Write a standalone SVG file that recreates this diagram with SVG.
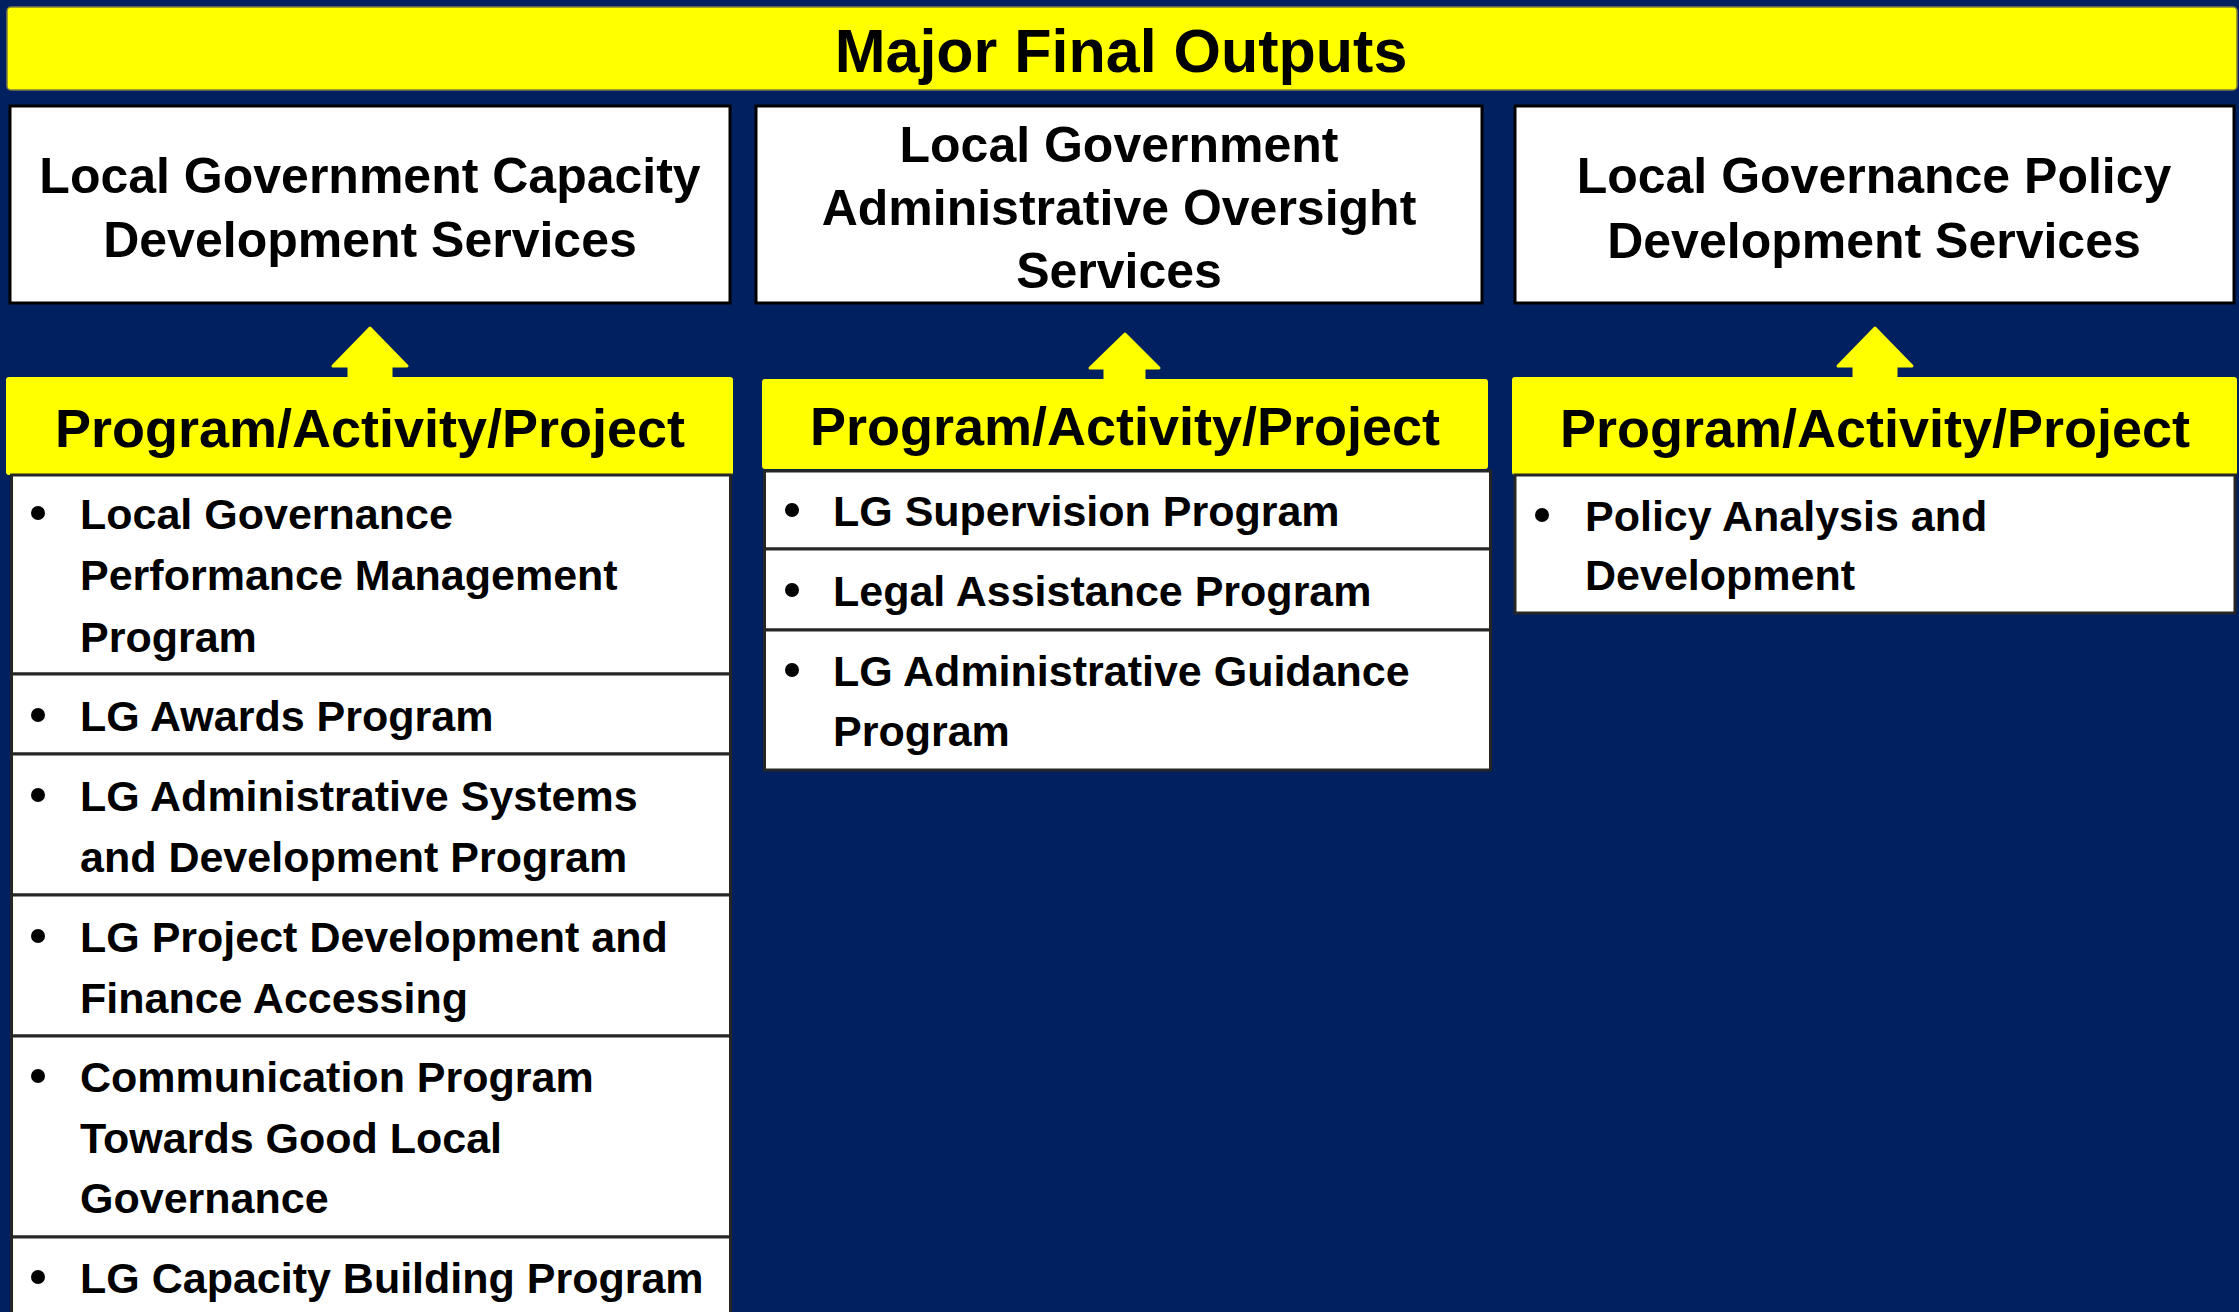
<svg xmlns="http://www.w3.org/2000/svg" width="2239" height="1312" viewBox="0 0 2239 1312">
  <defs>
    <style>
      .bg { fill: #002060; }
      .topbar { fill: #FFFF00; stroke: #7F7F3F; stroke-width: 1.5; }
      .outbox { fill: #FFFFFF; stroke: #000000; stroke-width: 3; }
      .hdr { fill: #FFFF00; }
      .cell { fill: #FFFFFF; stroke: #262626; stroke-width: 3; }
      .arrow { fill: #FFFF00; stroke: #FFFF00; stroke-width: 3; stroke-linejoin: round; }
      .title { font-family: "Liberation Sans", Arial, sans-serif; font-weight: bold; font-size: 61px; fill: #000; text-anchor: middle; }
      .otext { font-family: "Liberation Sans", Arial, sans-serif; font-weight: bold; font-size: 50px; fill: #000; text-anchor: middle; }
      .htext { font-family: "Liberation Sans", Arial, sans-serif; font-weight: bold; font-size: 54px; fill: #000; text-anchor: middle; }
      .item { font-family: "Liberation Sans", Arial, sans-serif; font-weight: bold; font-size: 43px; fill: #000; }
      .dot { fill: #000; }
    </style>
  </defs>

  <rect class="bg" x="0" y="0" width="2239" height="1312"/>

  <g id="major-final-outputs">
    <rect class="topbar" x="7" y="7" width="2230" height="83" rx="4"/>
    <text class="title" x="1121" y="72">Major Final Outputs</text>
  </g>

  <g id="mfo-capacity">
    <rect class="outbox" x="10" y="106" width="720" height="197"/>
    <text class="otext" x="370" y="193">Local Government Capacity</text>
    <text class="otext" x="370" y="257">Development Services</text>
  </g>

  <g id="mfo-oversight">
    <rect class="outbox" x="756" y="106" width="726" height="197"/>
    <text class="otext" x="1119" y="162">Local Government</text>
    <text class="otext" x="1119" y="225">Administrative Oversight</text>
    <text class="otext" x="1119" y="288">Services</text>
  </g>

  <g id="mfo-policy">
    <rect class="outbox" x="1515" y="106" width="719" height="197"/>
    <text class="otext" x="1874" y="193">Local Governance Policy</text>
    <text class="otext" x="1874" y="258">Development Services</text>
  </g>

  <g id="connectors">
    <polygon class="arrow" points="370,328 407,366 391,366 391,378 349,378 349,366 333,366"/>
    <polygon class="arrow" points="1125,334 1159,368 1144,368 1144,380 1105,380 1105,368 1090,368"/>
    <polygon class="arrow" points="1875,328 1912,366 1896,366 1896,378 1854,378 1854,366 1838,366"/>
  </g>

  <g id="pap-capacity">
    <rect class="hdr" x="6" y="377" width="727" height="98" rx="3"/>
    <text class="htext" x="370" y="447">Program/Activity/Project</text>
    <rect class="cell" x="11.5" y="475" width="719" height="199"/>
    <rect class="cell" x="11.5" y="674" width="719" height="80"/>
    <rect class="cell" x="11.5" y="754" width="719" height="141"/>
    <rect class="cell" x="11.5" y="895" width="719" height="141"/>
    <rect class="cell" x="11.5" y="1036" width="719" height="201"/>
    <rect class="cell" x="11.5" y="1237" width="719" height="100"/>
    <circle class="dot" cx="38" cy="513" r="7"/>
    <text class="item" x="80" y="529">Local Governance</text>
    <text class="item" x="80" y="590">Performance Management</text>
    <text class="item" x="80" y="652">Program</text>
    <circle class="dot" cx="38" cy="715" r="7"/>
    <text class="item" x="80" y="731">LG Awards Program</text>
    <circle class="dot" cx="38" cy="795" r="7"/>
    <text class="item" x="80" y="811">LG Administrative Systems</text>
    <text class="item" x="80" y="872">and Development Program</text>
    <circle class="dot" cx="38" cy="936" r="7"/>
    <text class="item" x="80" y="952">LG Project Development and</text>
    <text class="item" x="80" y="1013">Finance Accessing</text>
    <circle class="dot" cx="38" cy="1076" r="7"/>
    <text class="item" x="80" y="1092">Communication Program</text>
    <text class="item" x="80" y="1153">Towards Good Local</text>
    <text class="item" x="80" y="1213">Governance</text>
    <circle class="dot" cx="38" cy="1277" r="7"/>
    <text class="item" x="80" y="1293">LG Capacity Building Program</text>
  </g>

  <g id="pap-oversight">
    <rect class="hdr" x="762" y="379" width="726" height="90" rx="3"/>
    <text class="htext" x="1125" y="445">Program/Activity/Project</text>
    <rect class="cell" x="764.5" y="471" width="726" height="78"/>
    <rect class="cell" x="764.5" y="549" width="726" height="81"/>
    <rect class="cell" x="764.5" y="630" width="726" height="140"/>
    <circle class="dot" cx="792" cy="510" r="7"/>
    <text class="item" x="833" y="526">LG Supervision Program</text>
    <circle class="dot" cx="792" cy="590" r="7"/>
    <text class="item" x="833" y="606">Legal Assistance Program</text>
    <circle class="dot" cx="792" cy="670" r="7"/>
    <text class="item" x="833" y="686">LG Administrative Guidance</text>
    <text class="item" x="833" y="746">Program</text>
  </g>

  <g id="pap-policy">
    <rect class="hdr" x="1512" y="377" width="725" height="98" rx="3"/>
    <text class="htext" x="1875" y="447">Program/Activity/Project</text>
    <rect class="cell" x="1515" y="475" width="720" height="138"/>
    <circle class="dot" cx="1542" cy="515" r="7"/>
    <text class="item" x="1585" y="531">Policy Analysis and</text>
    <text class="item" x="1585" y="590">Development</text>
  </g>
</svg>
